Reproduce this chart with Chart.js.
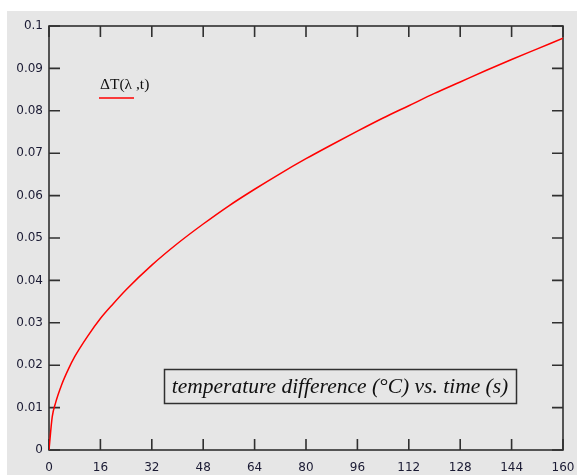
<!DOCTYPE html>
<html>
<head>
<meta charset="utf-8">
<script src="https://cdn.jsdelivr.net/npm/chart.js@4"></script>
<style>
  html, body { margin: 0; padding: 0; background: #fff; }
  #wrap { position: absolute; left: 7px; top: 11px; width: 570px; height: 464px; background: #e6e6e6; }
</style>
</head>
<body>
<div id="wrap"><canvas id="chart"></canvas></div>
<script>
// time (s) and temperature difference
const times = [0, 1, 2, 4, 6, 8, 12, 16, 20, 24, 32, 40, 48, 56, 64, 72, 80, 88, 96, 104, 112, 120, 128, 136, 144, 152, 160];
const deltaT = [0, 0.0078, 0.011, 0.0155, 0.019, 0.022, 0.0268, 0.031, 0.0345, 0.0378, 0.0436, 0.0487, 0.0533, 0.0576, 0.0615, 0.0652, 0.0687, 0.072, 0.0752, 0.0783, 0.0812, 0.0841, 0.0868, 0.0895, 0.0921, 0.0946, 0.0971];

const xTicks = [0, 16, 32, 48, 64, 80, 96, 112, 128, 144, 160];
const yTicks = [0, 0.01, 0.02, 0.03, 0.04, 0.05, 0.06, 0.07, 0.08, 0.09, 0.1];
const yTickLabels = ["0", "0.01", "0.02", "0.03", "0.04", "0.05", "0.06", "0.07", "0.08", "0.09", "0.1"];

const legendText = "\u0394T(\u03bb ,t)";
const titleText = "temperature difference (\u00b0C) vs. time (s)";

const points = times.map(function (t, i) { return { x: t, y: deltaT[i] }; });

// frame with inward tick marks on all four sides (Mathcad style)
const framePlugin = {
    id: "frame",
    beforeDatasetsDraw(chart) {
        const ctx = chart.ctx;
        const a = chart.chartArea;
        const xs = chart.scales.x;
        const ys = chart.scales.y;
        const len = 11;
        ctx.save();
        ctx.strokeStyle = "#303030";
        ctx.lineWidth = 1.6;
        ctx.strokeRect(a.left, a.top, a.right - a.left, a.bottom - a.top);
        ctx.beginPath();
        xTicks.forEach(function (v) {
            const px = xs.getPixelForValue(v);
            ctx.moveTo(px, a.bottom); ctx.lineTo(px, a.bottom - len);
            ctx.moveTo(px, a.top); ctx.lineTo(px, a.top + len);
        });
        yTicks.forEach(function (v) {
            const py = ys.getPixelForValue(v);
            ctx.moveTo(a.left, py); ctx.lineTo(a.left + len, py);
            ctx.moveTo(a.right, py); ctx.lineTo(a.right - len, py);
        });
        ctx.stroke();
        ctx.restore();
    },
    afterDatasetsDraw(chart) {
        const ctx = chart.ctx;
        ctx.save();
        // legend label with red line under it
        ctx.fillStyle = "#111";
        ctx.font = "15.5px 'Liberation Serif', serif";
        ctx.textBaseline = "middle";
        ctx.textAlign = "left";
        ctx.fillText(legendText, 93, 74);
        ctx.strokeStyle = "#ff0000";
        ctx.lineWidth = 1.5;
        ctx.beginPath();
        ctx.moveTo(92, 87); ctx.lineTo(127, 87);
        ctx.stroke();
        // caption box
        ctx.strokeStyle = "#303030";
        ctx.lineWidth = 1.5;
        ctx.strokeRect(157.5, 358.5, 352, 34);
        ctx.font = "italic 21.5px 'Liberation Serif', serif";
        ctx.textAlign = "center";
        ctx.fillStyle = "#111";
        ctx.fillText(titleText, 333, 376);
        ctx.restore();
    }
};

const ctx = document.getElementById("chart").getContext("2d");
const tempChart = new Chart(ctx, {
    type: "scatter",
    data: {
        datasets: [{
            label: legendText,
            data: points,
            showLine: true,
            borderColor: "#ff0000",
            borderWidth: 1.5,
            pointRadius: 0,
            cubicInterpolationMode: "monotone"
        }]
    },
    options: {
        responsive: true,
        maintainAspectRatio: false,
        animation: false,
        layout: { padding: { top: 15, right: 14, left: 0, bottom: 0 } },
        scales: {
            x: {
                type: "linear",
                min: 0,
                max: 160,
                afterFit: function (scale) {
                    scale.height = 25;
                    scale.paddingLeft = 0;
                    scale.paddingRight = 0;
                },
                afterBuildTicks: function (scale) { scale.ticks = xTicks.map(function (v) { return { value: v }; }); },
                grid: { display: false, drawTicks: false },
                border: { display: false },
                ticks: {
                    padding: 11,
                    color: "#1a1a33",
                    font: { family: "'DejaVu Sans'", size: 12 },
                    maxRotation: 0
                }
            },
            y: {
                type: "linear",
                min: 0,
                max: 0.1,
                afterFit: function (scale) {
                    scale.width = 42;
                    scale.paddingTop = 0;
                    scale.paddingBottom = 0;
                },
                afterBuildTicks: function (scale) { scale.ticks = yTicks.map(function (v) { return { value: v }; }); },
                grid: { display: false, drawTicks: false },
                border: { display: false },
                ticks: {
                    padding: 6,
                    color: "#1a1a33",
                    font: { family: "'DejaVu Sans'", size: 12 },
                    callback: function (value, index) { return yTickLabels[index]; }
                }
            }
        },
        plugins: {
            legend: { display: false },
            tooltip: { enabled: false }
        }
    },
    plugins: [framePlugin]
});
</script>
</body>
</html>
